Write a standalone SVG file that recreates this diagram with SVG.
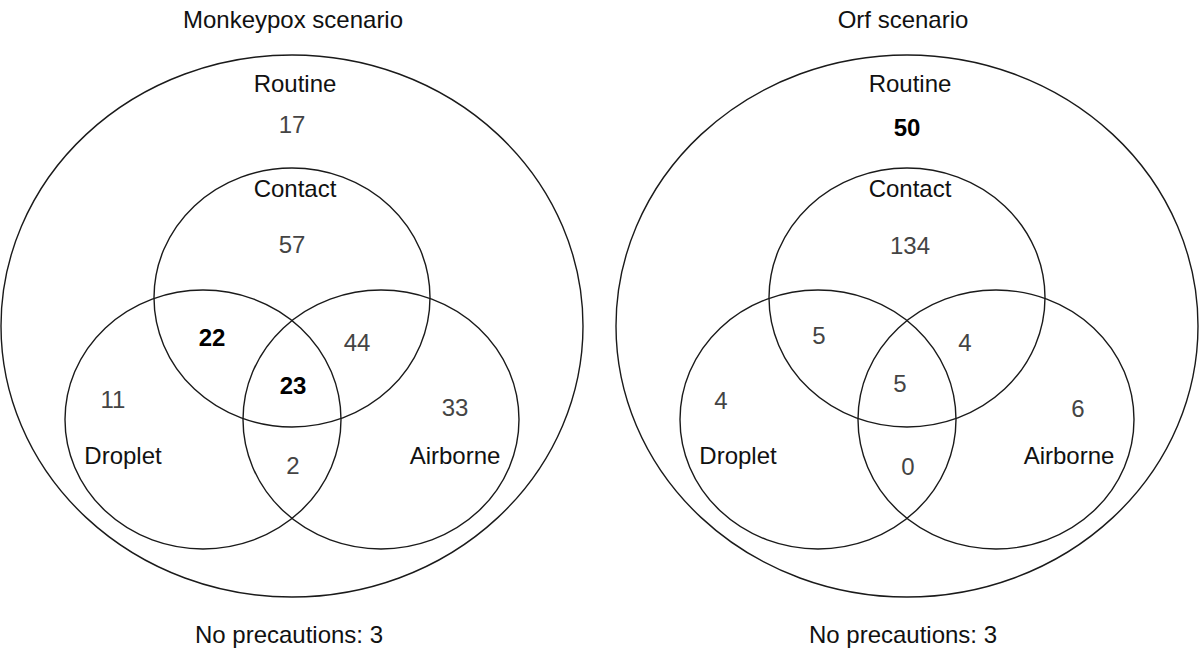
<svg xmlns="http://www.w3.org/2000/svg" width="1200" height="654" viewBox="0 0 1200 654">
<style>
.e{fill:none;stroke:#1a1a1a;stroke-width:1.4}
text{font-family:"Liberation Sans",Arial,sans-serif;font-size:24px;text-anchor:middle}
.l{fill:#111}
.n{fill:#444}
.b{fill:#000;font-weight:bold}
</style>
<rect width="1200" height="654" fill="#fff"/>
<g id="monkeypox">
<text class="l" x="293" y="28">Monkeypox scenario</text>
<g id="mp-routine"><ellipse class="e" cx="292" cy="326" rx="291" ry="271"/><text class="l" x="295" y="92">Routine</text><text class="n" x="292" y="133">17</text></g>
<g id="mp-contact"><ellipse class="e" cx="292" cy="297.5" rx="138" ry="129.5"/><text class="l" x="295" y="197">Contact</text><text class="n" x="292" y="253">57</text></g>
<g id="mp-droplet"><ellipse class="e" cx="203" cy="419.5" rx="138" ry="129.5"/><text class="l" x="123" y="464">Droplet</text><text class="n" x="113" y="408">11</text></g>
<g id="mp-airborne"><ellipse class="e" cx="381" cy="419.5" rx="138" ry="129.5"/><text class="l" x="455" y="464">Airborne</text><text class="n" x="455" y="416">33</text></g>
<text class="b" x="212" y="346">22</text>
<text class="n" x="357" y="351">44</text>
<text class="b" x="293" y="394">23</text>
<text class="n" x="293" y="474">2</text>
<text class="l" x="289" y="643">No precautions: 3</text>
</g>
<g id="orf">
<text class="l" x="903" y="28">Orf scenario</text>
<g id="orf-routine"><ellipse class="e" cx="907" cy="326" rx="291" ry="271"/><text class="l" x="910" y="92">Routine</text><text class="b" x="907" y="136">50</text></g>
<g id="orf-contact"><ellipse class="e" cx="907" cy="297.5" rx="138" ry="129.5"/><text class="l" x="910" y="197">Contact</text><text class="n" x="910" y="254">134</text></g>
<g id="orf-droplet"><ellipse class="e" cx="818" cy="419.5" rx="138" ry="129.5"/><text class="l" x="738" y="464">Droplet</text><text class="n" x="721" y="409">4</text></g>
<g id="orf-airborne"><ellipse class="e" cx="996" cy="419.5" rx="138" ry="129.5"/><text class="l" x="1069" y="464">Airborne</text><text class="n" x="1078" y="417">6</text></g>
<text class="n" x="819" y="344">5</text>
<text class="n" x="965" y="351">4</text>
<text class="n" x="900" y="392">5</text>
<text class="n" x="908" y="475">0</text>
<text class="l" x="903" y="643">No precautions: 3</text>
</g>
<g id="connectors"></g>
</svg>
